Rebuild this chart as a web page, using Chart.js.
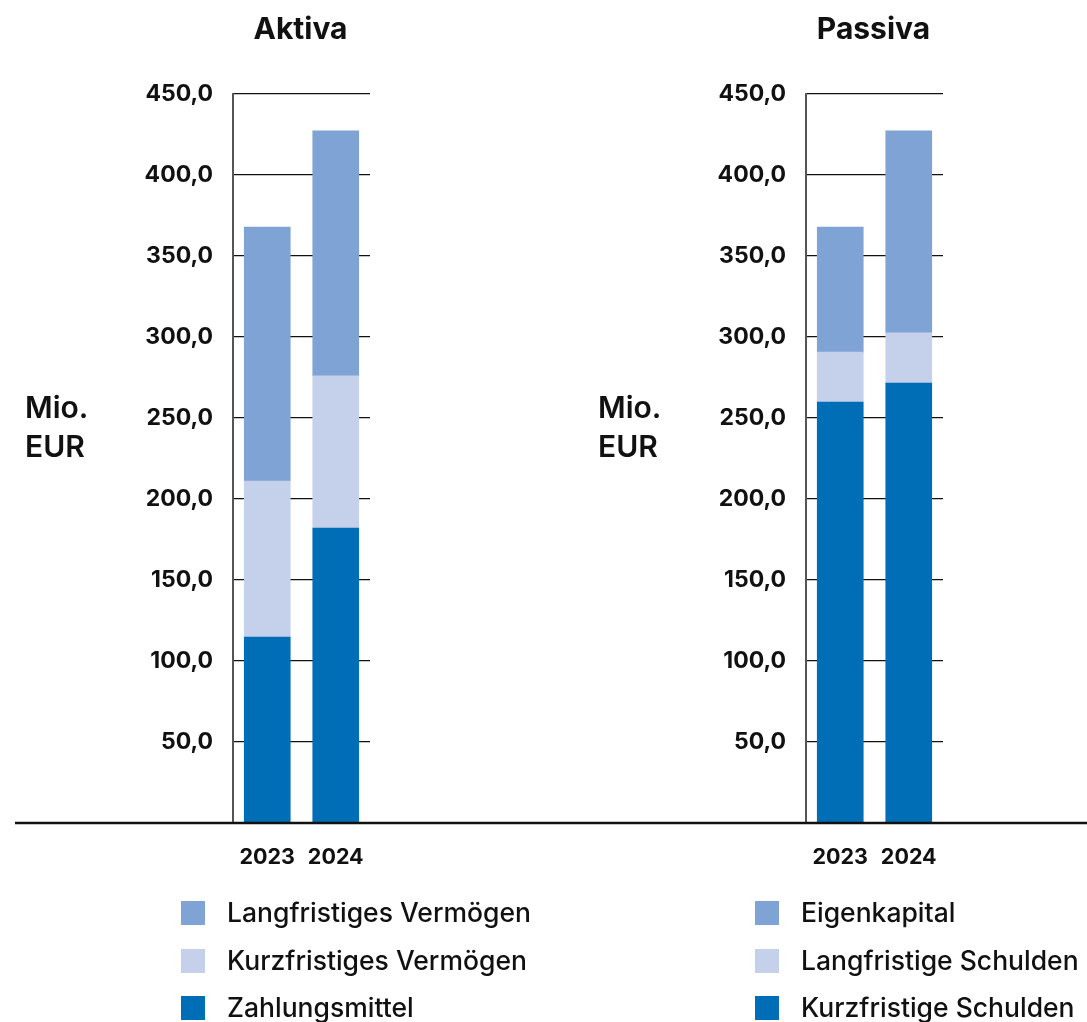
<!DOCTYPE html>
<html>
<head>
<meta charset="utf-8">
<title>Bilanzstruktur</title>
<script src="https://cdn.jsdelivr.net/npm/chart.js@4.4.0/dist/chart.umd.min.js"></script>
<style>
  html, body { margin: 0; padding: 0; background: #fff; }
  #wrap { position: relative; width: 1087px; height: 1022px; overflow: hidden; }
  .panel { position: absolute; top: 0; }
</style>
</head>
<body>
<div id="wrap">
  <canvas id="aktiva" class="panel" style="left:0" width="560" height="1022"></canvas>
  <canvas id="passiva" class="panel" style="left:560px" width="527" height="1022"></canvas>
</div>
<script>
// Balance sheet values, Mio. EUR
const years = ['2023', '2024'];

const aktivaZahlungsmittel = [114.8, 182.1];
const aktivaKurzfristig = [96.3, 94.0];
const aktivaLangfristig = [156.8, 151.1];

const passivaKurzfristigeSchulden = [259.9, 271.6];
const passivaLangfristigeSchulden = [30.8, 30.9];
const passivaEigenkapital = [77.2, 124.7];

const yMin = 0;
const yMax = 450;
const yStep = 50;

const DARK = '#006EB7';
const MID = '#80A3D6';
const LIGHT = '#C5D0EB';
const INK = '#111111';
const FONT = 'Inter, "Open Sans", sans-serif';

// Panel decorations: title over the plot, unit caption, base line, stacked legend
const panelPlugin = {
  id: 'panel',
  afterDatasetsDraw(chart, args, opts) {
    const { ctx, scales } = chart;
    const y0 = scales.y.getPixelForValue(0);
    ctx.save();
    ctx.strokeStyle = INK;
    ctx.lineWidth = 2.5;
    ctx.beginPath();
    ctx.moveTo(opts.lineStart, y0);
    ctx.lineTo(chart.width, y0);
    ctx.stroke();
    ctx.restore();
  },
  afterDraw(chart, args, opts) {
    const { ctx, chartArea } = chart;
    ctx.save();
    ctx.fillStyle = INK;

    // title
    ctx.font = '700 30px ' + FONT;
    ctx.textAlign = 'center';
    ctx.textBaseline = 'middle';
    ctx.fillText(opts.title, (chartArea.left + chartArea.right) / 2 - 1, 30);

    // unit caption
    ctx.font = '600 30px ' + FONT;
    ctx.textAlign = 'left';
    ctx.textBaseline = 'alphabetic';
    ctx.fillText('Mio.', opts.captionX, 418);
    ctx.fillText('EUR', opts.captionX, 457);

    // legend, top stack segment first
    const rows = [913, 961, 1008];
    const items = chart.data.datasets.slice().reverse();
    ctx.font = '500 26.5px ' + FONT;
    ctx.textBaseline = 'middle';
    items.forEach((ds, i) => {
      ctx.fillStyle = ds.backgroundColor;
      ctx.fillRect(opts.legendX, rows[i] - 12, 24, 24);
      ctx.fillStyle = INK;
      ctx.fillText(ds.label, opts.legendX + 46, rows[i] + 1);
    });
    ctx.restore();
  }
};

function fmt(v) {
  return v.toFixed(1).replace('.', ',');
}

function makeChart(id, datasets, cfg) {
  return new Chart(document.getElementById(id), {
    type: 'bar',
    data: { labels: years, datasets },
    plugins: [panelPlugin],
    options: {
      responsive: false,
      animation: false,
      devicePixelRatio: 1,
      layout: { padding: { left: 0, right: cfg.padRight, top: 94, bottom: 0 } },
      datasets: { bar: { barThickness: 46 } },
      plugins: {
        legend: { display: false },
        title: { display: false },
        tooltip: { enabled: false },
        panel: {
          title: cfg.title,
          lineStart: cfg.lineStart,
          captionX: cfg.captionX,
          legendX: cfg.legendX
        }
      },
      scales: {
        x: {
          stacked: true,
          grid: { display: false },
          border: { display: false },
          ticks: { color: INK, padding: 14, font: { family: FONT, size: 21.5, weight: '700' } },
          afterFit(scale) { scale.height = 199; }
        },
        y: {
          stacked: true,
          min: yMin,
          max: yMax,
          grid: { color: INK, lineWidth: 1.2, drawTicks: false },
          border: { color: '#555555', width: 2 },
          ticks: {
            stepSize: yStep,
            padding: 20,
            color: INK,
            font: { family: FONT, size: 23, weight: '700' },
            callback: (v) => (v === 0 ? '' : fmt(v))
          },
          afterFit(scale) { scale.width = cfg.axisLeft; }
        }
      }
    }
  });
}

makeChart('aktiva', [
  { label: 'Zahlungsmittel', data: aktivaZahlungsmittel, backgroundColor: DARK },
  { label: 'Kurzfristiges Vermögen', data: aktivaKurzfristig, backgroundColor: LIGHT },
  { label: 'Langfristiges Vermögen', data: aktivaLangfristig, backgroundColor: MID }
], { title: 'Aktiva', padRight: 190, axisLeft: 233, lineStart: 15, captionX: 25, legendX: 181 });

makeChart('passiva', [
  { label: 'Kurzfristige Schulden', data: passivaKurzfristigeSchulden, backgroundColor: DARK },
  { label: 'Langfristige Schulden', data: passivaLangfristigeSchulden, backgroundColor: LIGHT },
  { label: 'Eigenkapital', data: passivaEigenkapital, backgroundColor: MID }
], { title: 'Passiva', padRight: 144, axisLeft: 246, lineStart: 0, captionX: 38, legendX: 195 });
</script>
</body>
</html>
